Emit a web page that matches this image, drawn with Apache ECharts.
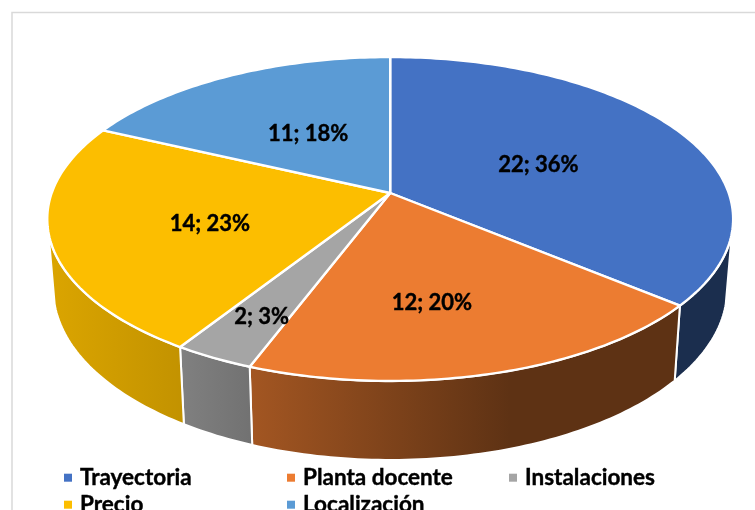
<!DOCTYPE html>
<html>
<head>
<meta charset="utf-8">
<style>
  html, body { margin: 0; padding: 0; background: #fff; overflow: hidden; }
  #chart { width: 755px; height: 510px; }
</style>
</head>
<body>
<div id="chart"></div>
<script src="https://cdn.jsdelivr.net/npm/echarts@6/dist/echarts.min.js"></script>
<script>
const categories = ['Trayectoria', 'Planta docente', 'Instalaciones', 'Precio', 'Localización']
const values = [22, 12, 2, 14, 11]
const colors = ['#4472C4', '#EC7C31', '#A5A5A5', '#FCBE00', '#5B9BD5']
const total = values.reduce((a, b) => a + b, 0)

// layout of the tilted pie (apex, radii and perspective fitted to the picture)
const apex = { x: 390.2, y: 193 }
const R = 338.5
const S = 157.8
const K = 0.1605
const depth = 79
const rimY = 381
const shrink = 0.982
const wallFrom = 104
const wallTo = 256
// label nudges from the middle of each slice
const labelShift = [[0, 4], [-5, 27], [-47, 48], [-14, 8], [3, 3]]
// side shading, brightness by x
const shadeX = [48, 185, 250, 510, 733]
const shadeF = [0.87, 0.77, 0.69, 0.4, 0.4]
// legend slots: left, top
const legendSlots = [[59, 461], [282, 461], [504, 461], [59, 488], [282, 488]]

function project(deg, r) {
  const t = deg * Math.PI / 180
  const px = Math.sin(t) * r
  const py = -Math.cos(t) * r
  const d = 1 - K * py
  return [apex.x + R * px / d, apex.y + S * py / d]
}

function lower(p) {
  return [apex.x + shrink * (p[0] - apex.x), p[1] + depth + 0.053 * (p[1] - rimY)]
}

function arc(a0, a1) {
  const pts = []
  const n = Math.max(2, Math.ceil(Math.abs(a1 - a0)))
  for (let i = 0; i <= n; i++) pts.push(project(a0 + (a1 - a0) * i / n, 1))
  return pts
}

function shaded(hex) {
  const c = parseInt(hex.slice(1), 16)
  const span = shadeX[shadeX.length - 1] - shadeX[0]
  const stops = shadeX.map((x, i) => {
    const f = shadeF[i]
    const ch = [(c >> 16) & 255, (c >> 8) & 255, c & 255].map(v => Math.round(v * f))
    return { offset: (x - shadeX[0]) / span, color: 'rgb(' + ch.join(',') + ')' }
  })
  return new echarts.graphic.LinearGradient(shadeX[0], 0, shadeX[shadeX.length - 1], 0, stops, true)
}

function sliceItem(index) {
  return function (params, api) {
    const before = values.slice(0, index).reduce((a, b) => a + b, 0)
    const a0 = before / total * 360
    const a1 = (before + api.value(0)) / total * 360
    const children = []

    const w0 = Math.max(a0, wallFrom)
    const w1 = Math.min(a1, wallTo)
    if (w0 < w1) {
      const upper = arc(w0, w1)
      children.push({
        type: 'polygon',
        z2: 1,
        shape: { points: upper.concat(upper.map(lower).reverse()) },
        style: { fill: shaded(colors[index]), stroke: '#fff', lineWidth: 2, lineJoin: 'round' }
      })
    }

    children.push({
      type: 'polygon',
      z2: 2,
      shape: { points: [[apex.x, apex.y]].concat(arc(a0, a1)) },
      style: { fill: colors[index], stroke: '#fff', lineWidth: 2.4, lineJoin: 'round' }
    })

    const mid = project((a0 + a1) / 2, 0.5)
    children.push({
      type: 'text',
      z2: 3,
      x: mid[0] + labelShift[index][0],
      y: mid[1] + labelShift[index][1],
      style: {
        text: api.value(0) + '; ' + Math.round(api.value(0) / total * 100) + '%',
        fill: '#000',
        stroke: '#000',
        lineWidth: 0.4,
        font: 'bold 22px Lato',
        align: 'center',
        verticalAlign: 'middle'
      }
    })
    return { type: 'group', children: children }
  }
}

// one legend per name, so the cut off second row stays in its own slot
const legends = [0, 1, 2, 3, 4].map(i => ({
  orient: 'horizontal',
  left: legendSlots[i][0],
  top: legendSlots[i][1],
  itemWidth: 8,
  itemHeight: 8,
  icon: 'rect',
  selectedMode: false,
  data: [categories[i]],
  textStyle: {
    color: '#000',
    fontFamily: 'Lato',
    fontWeight: 'bold',
    fontSize: 22.5,
    textBorderColor: '#000',
    textBorderWidth: 0.4,
    padding: [0, 0, 0, 3]
  }
}))

const chart = echarts.init(document.getElementById('chart'), null, { renderer: 'canvas' })
chart.setOption({
  animation: false,
  backgroundColor: '#fff',
  legend: legends,
  graphic: [{
    type: 'rect',
    silent: true,
    shape: { x: 12, y: 12.5, width: 800, height: 600 },
    style: { fill: 'none', stroke: '#d9d9d9', lineWidth: 1.5 }
  }],
  series: categories.map((name, i) => ({
    type: 'custom',
    name: name,
    coordinateSystem: 'none',
    silent: true,
    itemStyle: { color: colors[i] },
    renderItem: sliceItem(i),
    data: [[values[i]]]
  }))
})
</script>
</body>
</html>
